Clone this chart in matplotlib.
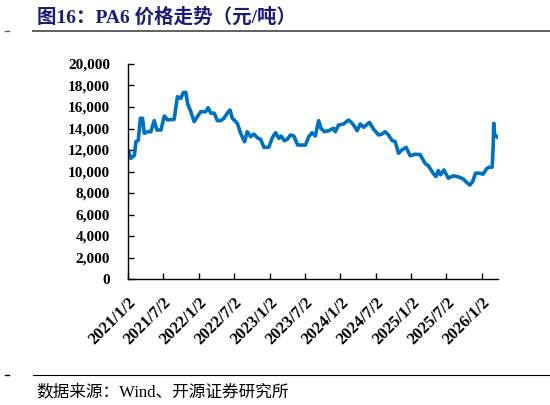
import matplotlib
matplotlib.use('Agg')
import matplotlib.pyplot as plt
import pandas as pd
from matplotlib.ticker import FuncFormatter

# PA6 price, yuan/ton
dates = [
    '2021-01-04', '2021-01-17', '2021-02-04', '2021-02-12', '2021-02-24', '2021-03-07',
    '2021-03-18', '2021-03-27', '2021-04-13', '2021-04-30', '2021-05-17', '2021-05-31',
    '2021-06-21', '2021-07-08', '2021-07-25', '2021-08-28', '2021-09-14', '2021-10-01',
    '2021-10-15', '2021-10-27', '2021-11-05', '2021-11-22', '2021-12-09', '2021-12-29',
    '2022-01-12', '2022-02-07', '2022-02-19', '2022-03-05', '2022-03-22', '2022-04-08',
    '2022-04-25', '2022-05-12', '2022-05-29', '2022-06-12', '2022-06-24', '2022-07-20',
    '2022-08-06', '2022-08-26', '2022-09-09', '2022-09-26', '2022-10-13', '2022-10-31',
    '2022-11-17', '2022-12-04', '2022-12-29', '2023-01-16', '2023-02-02', '2023-02-19',
    '2023-03-03', '2023-03-20', '2023-04-03', '2023-04-20', '2023-05-07', '2023-05-27',
    '2023-06-19', '2023-07-06', '2023-07-23', '2023-08-09', '2023-08-26', '2023-09-12',
    '2023-09-24', '2023-10-12', '2023-11-03', '2023-11-28', '2023-12-07', '2023-12-24',
    '2024-01-19', '2024-02-13', '2024-02-26', '2024-03-10', '2024-03-28', '2024-04-14',
    '2024-05-01', '2024-05-31', '2024-06-21', '2024-07-17', '2024-08-03', '2024-08-20',
    '2024-09-06', '2024-09-24', '2024-10-11', '2024-10-28', '2024-11-14', '2024-12-06',
    '2024-12-27', '2025-01-21', '2025-02-16', '2025-03-14', '2025-03-31', '2025-04-25',
    '2025-05-09', '2025-05-21', '2025-06-02', '2025-06-19', '2025-07-12', '2025-08-06',
    '2025-09-01', '2025-09-27', '2025-10-14', '2025-10-31', '2025-11-14', '2025-11-29',
    '2025-12-21', '2026-01-07', '2026-01-25', '2026-02-07', '2026-02-23', '2026-02-28',
    '2026-03-03', '2026-03-08', '2026-03-22',
]
prices = [
    11900, 11230, 11500, 12770, 12900, 14950,
    14950, 13550, 13700, 13700, 14730, 13860,
    13860, 15160, 14800, 14850, 16960, 16800,
    17360, 17360, 16340, 15560, 14640, 15190,
    15560, 15560, 15940, 15430, 15430, 14730,
    14730, 14950, 15430, 15720, 14950, 14480,
    13550, 12770, 13700, 13240, 13480, 13140,
    12990, 12250, 12250, 13140, 13610, 13080,
    13300, 12860, 12990, 13400, 13300, 12460,
    12460, 12460, 13240, 13610, 13300, 14730,
    14020, 13700, 13800, 14020, 13700, 14330,
    14420, 14790, 14600, 14330, 13800, 14420,
    14110, 14570, 13950, 13400, 13480, 13700,
    13400, 12900, 12770, 11690, 12000, 12250,
    11460, 11600, 11580, 10750, 10530, 9830,
    9530, 10090, 9690, 10150, 9380, 9600,
    9500, 9300, 8990, 8740, 9050, 9840,
    9840, 9750, 10250, 10400, 10400, 12330,
    14480, 13400, 13200,
]
tick_dates = ['2021-01-02', '2021-07-02', '2022-01-02', '2022-07-02', '2023-01-02',
              '2023-07-02', '2024-01-02', '2024-07-02', '2025-01-02', '2025-07-02',
              '2026-01-02']
tick_labels = ['2021/1/2', '2021/7/2', '2022/1/2', '2022/7/2', '2023/1/2',
               '2023/7/2', '2024/1/2', '2024/7/2', '2025/1/2', '2025/7/2',
               '2026/1/2']
y_ticks = list(range(0, 20001, 2000))

title = '图16：PA6 价格走势（元/吨）'
source = '数据来源：Wind、开源证券研究所'

plt.rcParams['font.family'] = ['Liberation Serif', 'Noto Sans CJK SC', 'DejaVu Sans']


def main():
    x = pd.to_datetime(dates)
    fig = plt.figure(figsize=(5.5, 4.05), dpi=100)
    ax = fig.add_axes([128 / 550, 1 - 279 / 405, 370 / 550, 215 / 405])

    ax.plot(x, prices, color='#0070C0', linewidth=2.6, solid_joinstyle='round')

    ax.set_ylim(0, 20000)
    ax.set_yticks(y_ticks)
    ax.yaxis.set_major_formatter(FuncFormatter(lambda v, p: f'{int(v):,}'))
    ax.set_xlim(pd.Timestamp('2021-01-02'), pd.Timestamp('2026-03-25'))
    ax.set_xticks(pd.to_datetime(tick_dates))
    ax.set_xticklabels(tick_labels, rotation=45, ha='right', va='top',
                       rotation_mode='anchor')

    for s in ['top', 'right']:
        ax.spines[s].set_visible(False)
    for s in ['left', 'bottom']:
        ax.spines[s].set_linewidth(1.0)
        ax.spines[s].set_color('black')

    ax.tick_params(axis='y', direction='in', length=4, width=1, pad=13,
                   labelsize=11)
    ax.tick_params(axis='x', direction='in', length=4, width=1, pad=11,
                   labelsize=12)
    for lab in ax.get_xticklabels() + ax.get_yticklabels():
        lab.set_fontweight('bold')

    # header / footer decorations
    fig.text(37 / 550, 1 - 17 / 405, title, fontsize=14, fontweight='bold',
             color='#1c1c78', va='center', ha='left')
    fig.add_artist(plt.Line2D([33 / 550, 1], [1 - 31 / 405] * 2,
                              color='#606060', linewidth=1.4))
    fig.add_artist(plt.Line2D([5 / 550, 9 / 550], [1 - 31 / 405] * 2,
                              color='#606060', linewidth=1))
    fig.add_artist(plt.Line2D([33 / 550, 1], [1 - 375 / 405] * 2,
                              color='black', linewidth=0.8))
    fig.add_artist(plt.Line2D([5 / 550, 9 / 550], [1 - 375 / 405] * 2,
                              color='black', linewidth=1))
    fig.text(36 / 550, 1 - 392 / 405, source, fontsize=12, color='black',
             va='center', ha='left')

    fig.savefig('out.png', dpi=100)


if __name__ == '__main__':
    main()
